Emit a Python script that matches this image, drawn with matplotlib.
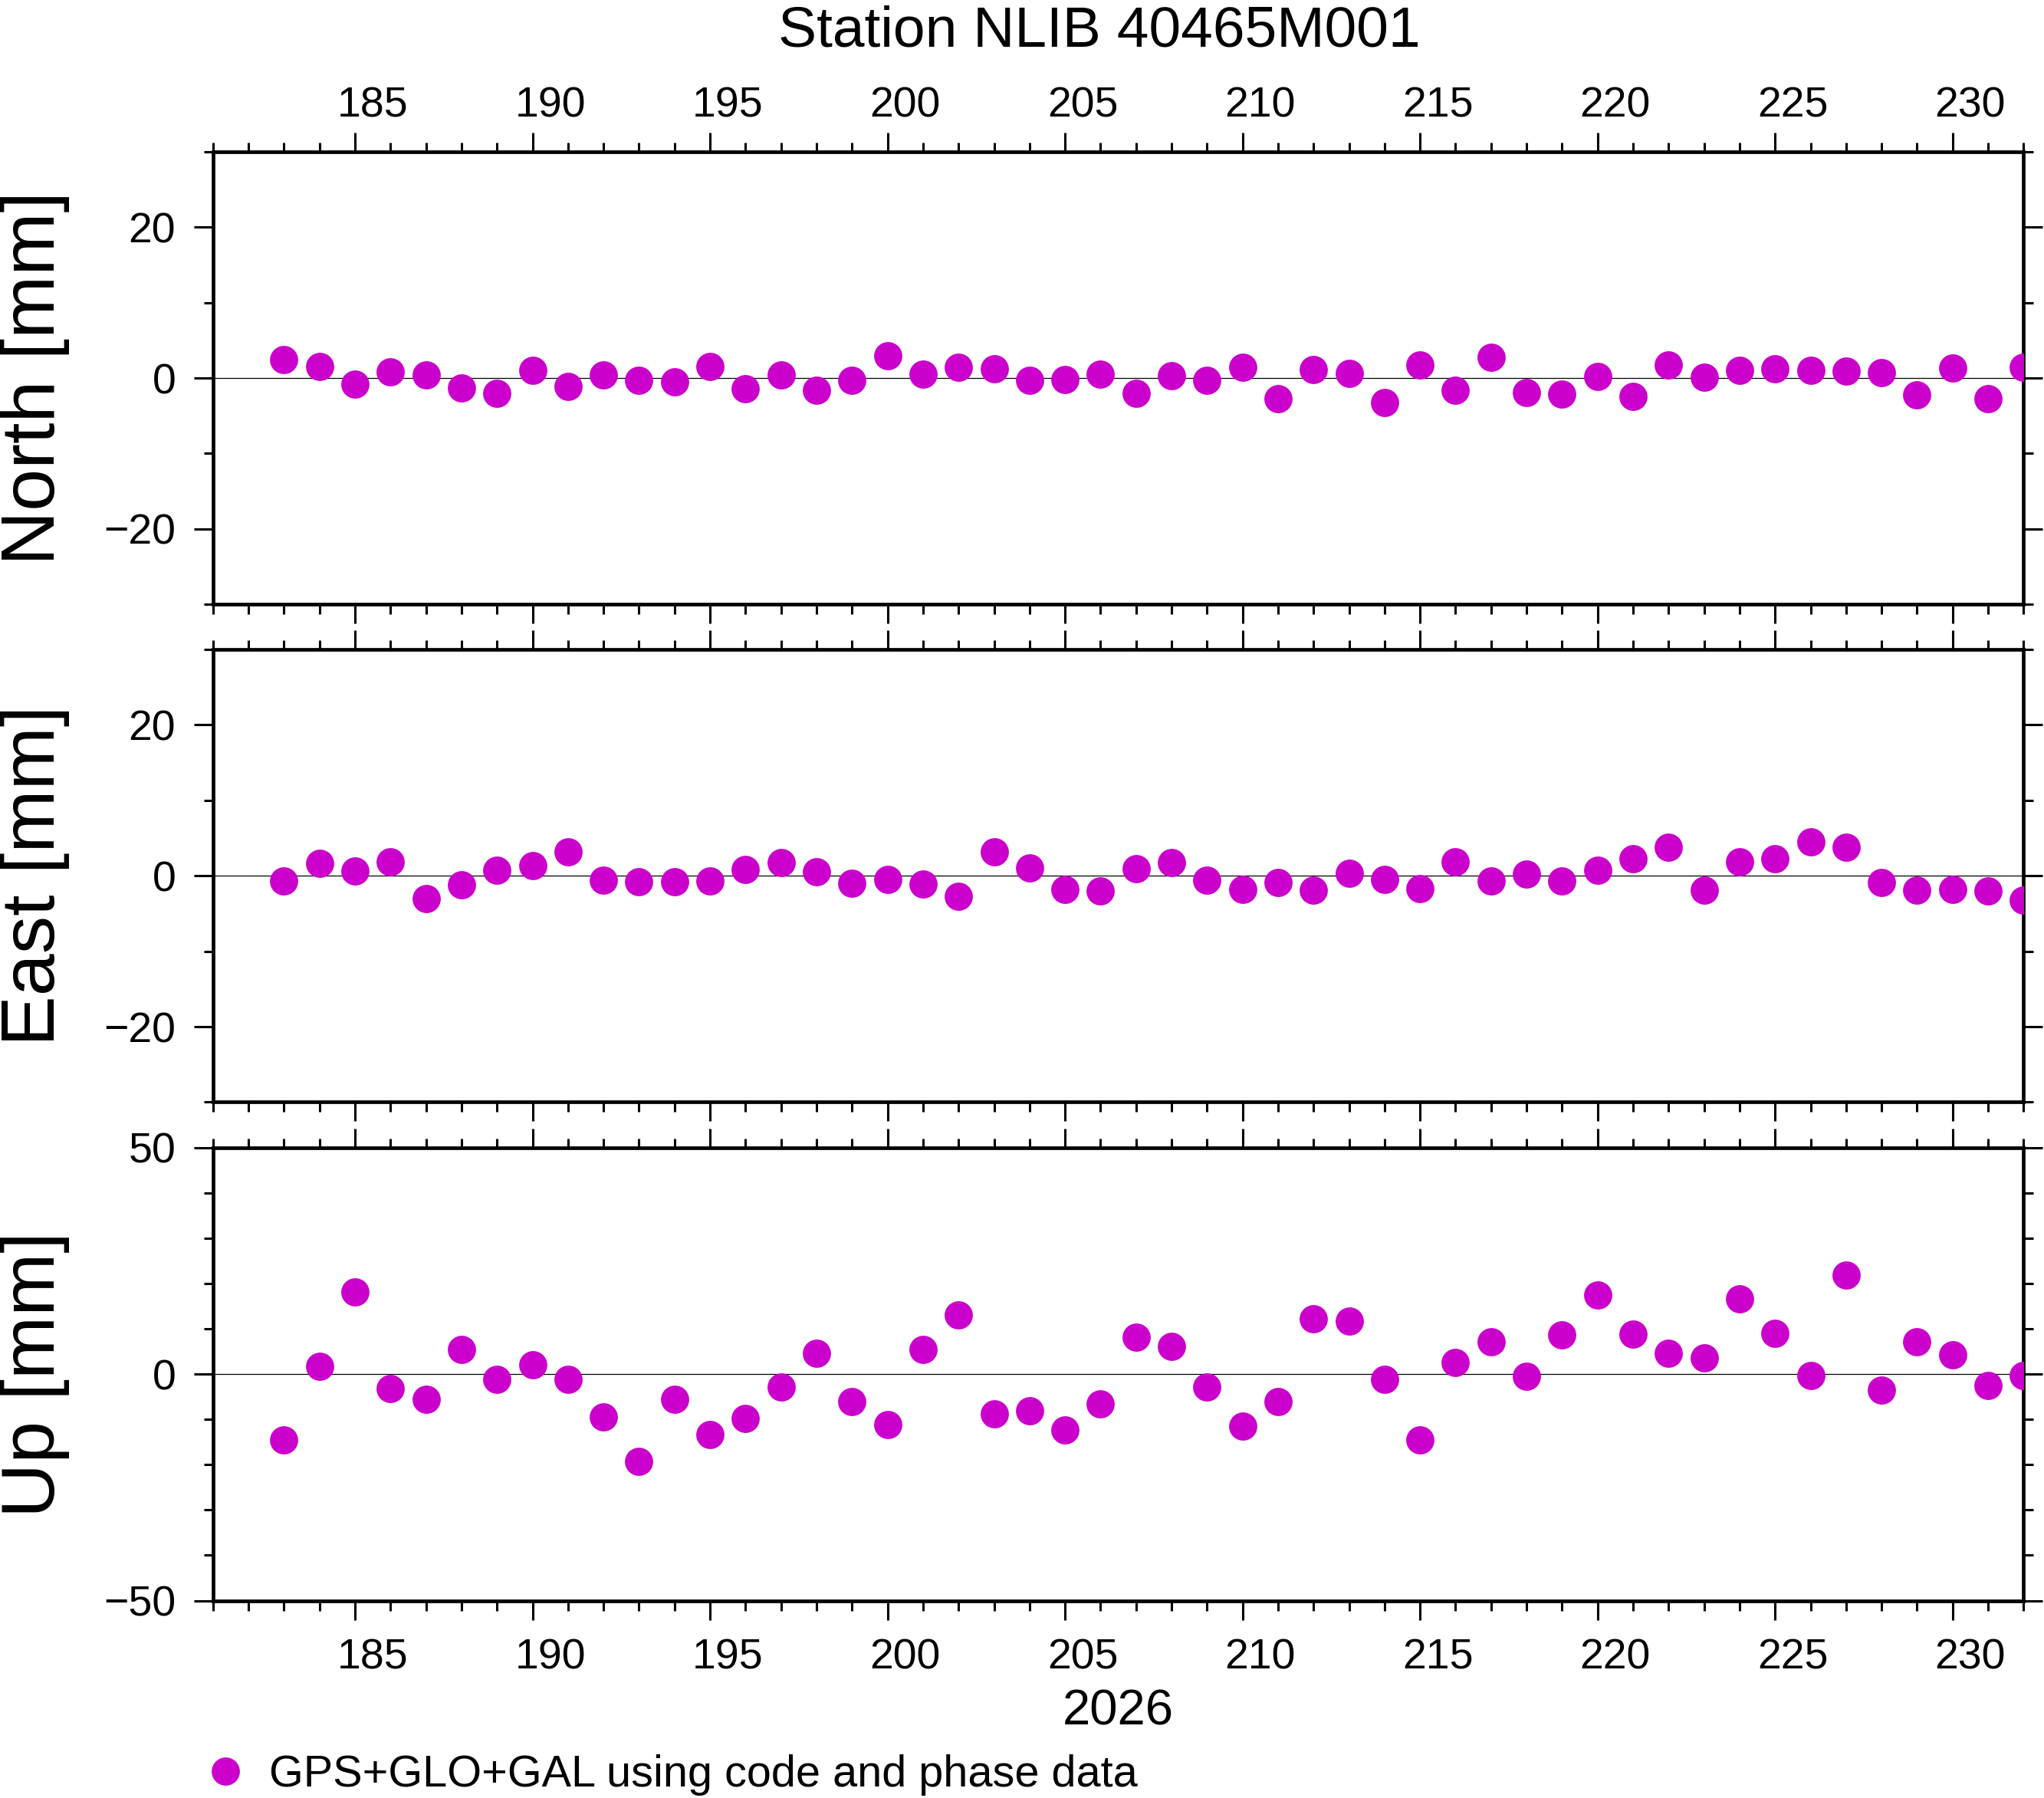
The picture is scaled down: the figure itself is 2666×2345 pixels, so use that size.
import matplotlib
matplotlib.use('Agg')
import matplotlib.pyplot as plt

plt.rcParams['font.family'] = ['Liberation Sans', 'DejaVu Sans']

# data
days = list(range(183, 233))
north = [2.4, 1.5, -0.8, 0.8, 0.4, -1.3, -2.0, 1.0, -1.1, 0.4,
         -0.3, -0.5, 1.5, -1.4, 0.4, -1.6, -0.3, 3.0, 0.5, 1.4,
         1.2, -0.3, -0.2, 0.5, -2.0, 0.3, -0.3, 1.4, -2.7, 1.1,
         0.6, -3.2, 1.7, -1.6, 2.7, -1.9, -2.1, 0.2, -2.4, 1.7,
         0.1, 1.0, 1.2, 1.0, 0.9, 0.7, -2.2, 1.3, -2.7, 1.4]
east = [-0.7, 1.6, 0.6, 1.8, -3.0, -1.2, 0.7, 1.3, 3.2, -0.6,
        -0.8, -0.8, -0.7, 0.8, 1.7, 0.5, -1.0, -0.5, -1.1, -2.7,
        3.2, 1.0, -1.8, -2.0, 0.9, 1.7, -0.6, -1.8, -0.9, -1.9,
        0.3, -0.5, -1.7, 1.8, -0.7, 0.2, -0.7, 0.7, 2.2, 3.8,
        -1.9, 1.8, 2.2, 4.5, 3.8, -0.9, -1.9, -1.8, -2.0, -3.2]
up = [-14.5, 1.8, 18.2, -3.2, -5.5, 5.5, -1.1, 2.0, -1.2, -9.4,
      -19.3, -5.5, -13.4, -9.8, -2.9, 4.6, -6.0, -11.1, 5.5, 13.1,
      -8.8, -8.1, -12.3, -6.5, 8.2, 6.2, -2.8, -11.5, -6.0, 12.2,
      11.7, -1.2, -14.5, 2.6, 7.1, -0.4, 8.6, 17.5, 8.9, 4.6,
      3.6, 16.7, 9.0, -0.3, 21.9, -3.6, 7.1, 4.3, -2.5, -0.3]

label_days = [185, 190, 195, 200, 205, 210, 215, 220, 225, 230]
panel_names = ['North [mm]', 'East [mm]', 'Up [mm]']
panel_data = [north, east, up]
panel_lim = [30, 30, 50]
panel_major = [[-20, 0, 20], [-20, 0, 20], [-50, 0, 50]]
legend_text = 'GPS+GLO+GAL using code and phase data'
title = 'Station NLIB 40465M001'
year = '2026'
xmin, xmax = 181, 232

color = '#cc00cc'

fig = plt.figure(figsize=(26.66, 23.45), dpi=100)

left, width, height = 0.1042, 0.8858, 0.2519
bottoms = [0.6638, 0.3870, 0.1098]

axes = []
for i in range(3):
    ax = fig.add_axes([left, bottoms[i], width, height])
    lim = panel_lim[i]
    ax.axhline(0, color='black', lw=0.9, zorder=1)
    line, = ax.plot(days, panel_data[i], 'o', ms=26.5, color=color, mew=0,
                    zorder=3, label=legend_text)
    ax.set_xlim(xmin, xmax)
    ax.set_ylim(-lim, lim)

    ax.set_xticks(range(185, 231, 5))
    ax.set_xticks(range(xmin, xmax + 1), minor=True)
    ax.set_xticklabels([])
    ax.set_yticks(panel_major[i])
    ax.set_yticks(range(-lim, lim + 1, 10), minor=True)
    ax.set_yticklabels([f'{v}'.replace('-', '\u2212') for v in panel_major[i]])

    ax.tick_params(which='both', direction='out', top=True, right=True,
                   bottom=True, left=True, width=2.2, color='black')
    ax.tick_params(which='major', length=18)
    ax.tick_params(which='minor', length=9)
    ax.tick_params(axis='y', labelsize=40, pad=17)
    for s in ax.spines.values():
        s.set_linewidth(3.4)

    fig.text(0.0172, bottoms[i] + height / 2, panel_names[i], rotation=90,
             ha='center', va='center', fontsize=71)
    axes.append(ax)

# day labels sit in the middle of each day interval
top_sec = axes[0].secondary_xaxis('top')
top_sec.set_xticks([d + 0.5 for d in label_days], labels=[str(d) for d in label_days])
top_sec.tick_params(length=0, pad=24, labelsize=40)
top_sec.spines['top'].set_visible(False)

bot_sec = axes[2].secondary_xaxis('bottom')
bot_sec.set_xticks([d + 0.5 for d in label_days], labels=[str(d) for d in label_days])
bot_sec.tick_params(length=0, pad=35.5, labelsize=40)
bot_sec.spines['bottom'].set_visible(False)
bot_sec.set_xlabel(year, fontsize=47, labelpad=10)

fig.text(0.5377, 0.9744, title, ha='center', va='baseline', fontsize=54)

fig.legend(handles=[line], loc='center left', bbox_to_anchor=(0.0994, 0.0128),
           frameon=False, fontsize=41.5, handlelength=1.0, handletextpad=0.5,
           borderpad=0, borderaxespad=0, numpoints=1)

fig.savefig('out.png', dpi=100)
